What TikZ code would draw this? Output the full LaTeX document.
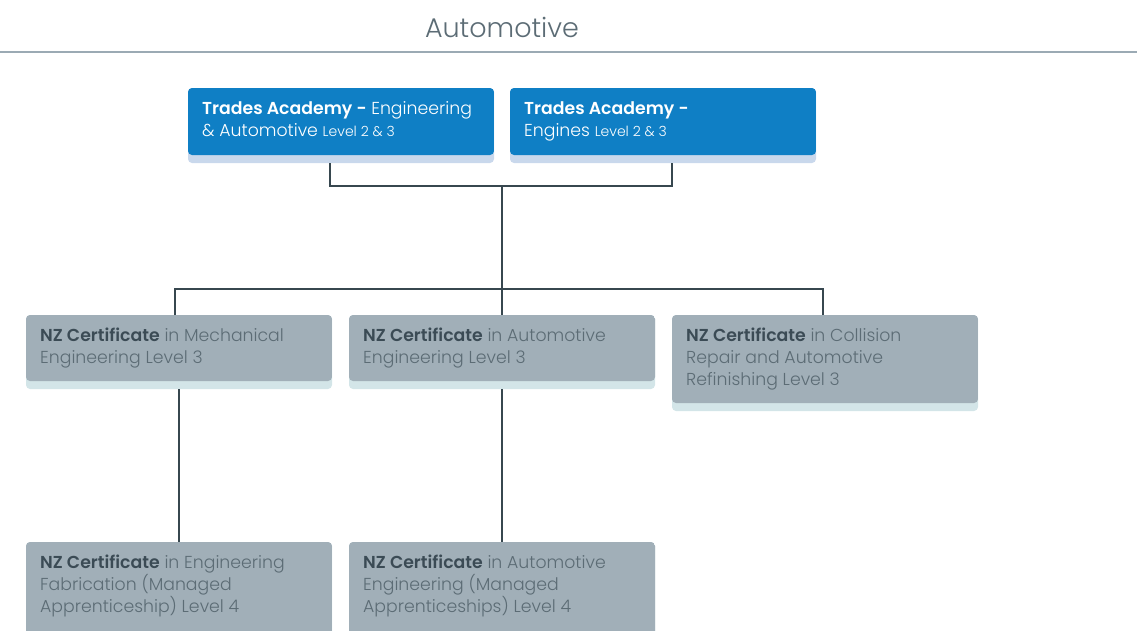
\documentclass[tikz,border=0pt]{standalone}
\usepackage{fontspec}
\setmainfont{Poppins}[UprightFont=* Light, BoldFont=* SemiBold]
\usepackage{tikz}

\definecolor{tablue}{HTML}{0F7FC5}
\definecolor{tastrip}{HTML}{C9D8EC}
\definecolor{nzgrey}{HTML}{A1AFB8}
\definecolor{nzstrip}{HTML}{D3E5E8}
\definecolor{nzdark}{HTML}{3B4B55}
\definecolor{nztext}{HTML}{5C6C75}
\definecolor{linkcol}{HTML}{37474F}
\definecolor{rulecol}{HTML}{9BAAB4}

\tikzset{
	box/.style={rectangle, rounded corners=4pt, minimum width=306pt, anchor=north west, inner sep=0pt, outer sep=0pt},
	tabox/.style={box, minimum height=75pt, fill=tastrip, path picture={\fill[tablue] (path picture bounding box.north west) rectangle ([yshift=8pt]path picture bounding box.south east);}},
	nzbox/.style={box, fill=nzstrip, path picture={\fill[nzgrey] (path picture bounding box.north west) rectangle ([yshift=8pt]path picture bounding box.south east);}},
	boxtext/.style={anchor=north west, align=left, inner xsep=14pt, inner ysep=13pt, font=\fontsize{17.3}{22}\selectfont},
	link/.style={draw=linkcol, line width=2pt}
}
\newcommand{\nzcert}{{\color{nzdark}\bfseries NZ Certificate}}
\newcommand{\lvl}[1]{{\fontsize{14}{22}\selectfont Level #1}}

\begin{document}
\begin{tikzpicture}[x=1pt, y=-1pt]
	\useasboundingbox (0,0) rectangle (1137,630);
	\clip (0,0) rectangle (1137,630);

	\node[font=\fontsize{27}{30}\selectfont, text=nztext] (title) at (502,27) {Automotive};
	\coordinate (ruleL) at (0,52);
	\coordinate (ruleR) at (1137,52);
	\draw[draw=rulecol, line width=2pt] (ruleL) -- (ruleR);

	\node[tabox] (ta1) at (188,88) {};
	\node[tabox] (ta2) at (510,88) {};
	\node[boxtext, text=white] (ta1t) at (ta1.north west) {\textbf{Trades Academy -} Engineering\\\& Automotive \lvl{2 \& 3}};
	\node[boxtext, text=white] (ta2t) at (ta2.north west) {\textbf{Trades Academy -}\\Engines \lvl{2 \& 3}};

	\node[nzbox, minimum height=74pt] (nzmech) at (26,315) {};
	\node[nzbox, minimum height=74pt] (nzauto) at (349,315) {};
	\node[nzbox, minimum height=96pt] (nzcoll) at (672,315) {};
	\node[nzbox, minimum height=110pt] (nzfab) at (26,542) {};
	\node[nzbox, minimum height=110pt] (nzapp) at (349,542) {};

	\node[boxtext, text=nztext] (nzmecht) at (nzmech.north west) {\nzcert{} in Mechanical\\Engineering Level 3};
	\node[boxtext, text=nztext] (nzautot) at (nzauto.north west) {\nzcert{} in Automotive\\Engineering Level 3};
	\node[boxtext, text=nztext] (nzcollt) at (nzcoll.north west) {\nzcert{} in Collision\\Repair and Automotive\\Refinishing Level 3};
	\node[boxtext, text=nztext] (nzfabt) at (nzfab.north west) {\nzcert{} in Engineering\\Fabrication (Managed\\Apprenticeship) Level 4};
	\node[boxtext, text=nztext] (nzappt) at (nzapp.north west) {\nzcert{} in Automotive\\Engineering (Managed\\Apprenticeships) Level 4};

	\coordinate (join) at (502,186);
	\coordinate (split) at (502,289);

	\path[link] ([xshift=-11pt]ta1.south) |- (join) -| ([xshift=9pt]ta2.south);
	\path[link] (join) edge (split);
	\path[link] ([xshift=-4pt]nzmech.north) |- (split) -| ([xshift=-2pt]nzcoll.north);
	\path[link] (split) edge (nzauto.north);
	\path[link] (nzmech.south) edge (nzfab.north);
	\path[link] (nzauto.south) edge (nzapp.north);
\end{tikzpicture}
\end{document}
